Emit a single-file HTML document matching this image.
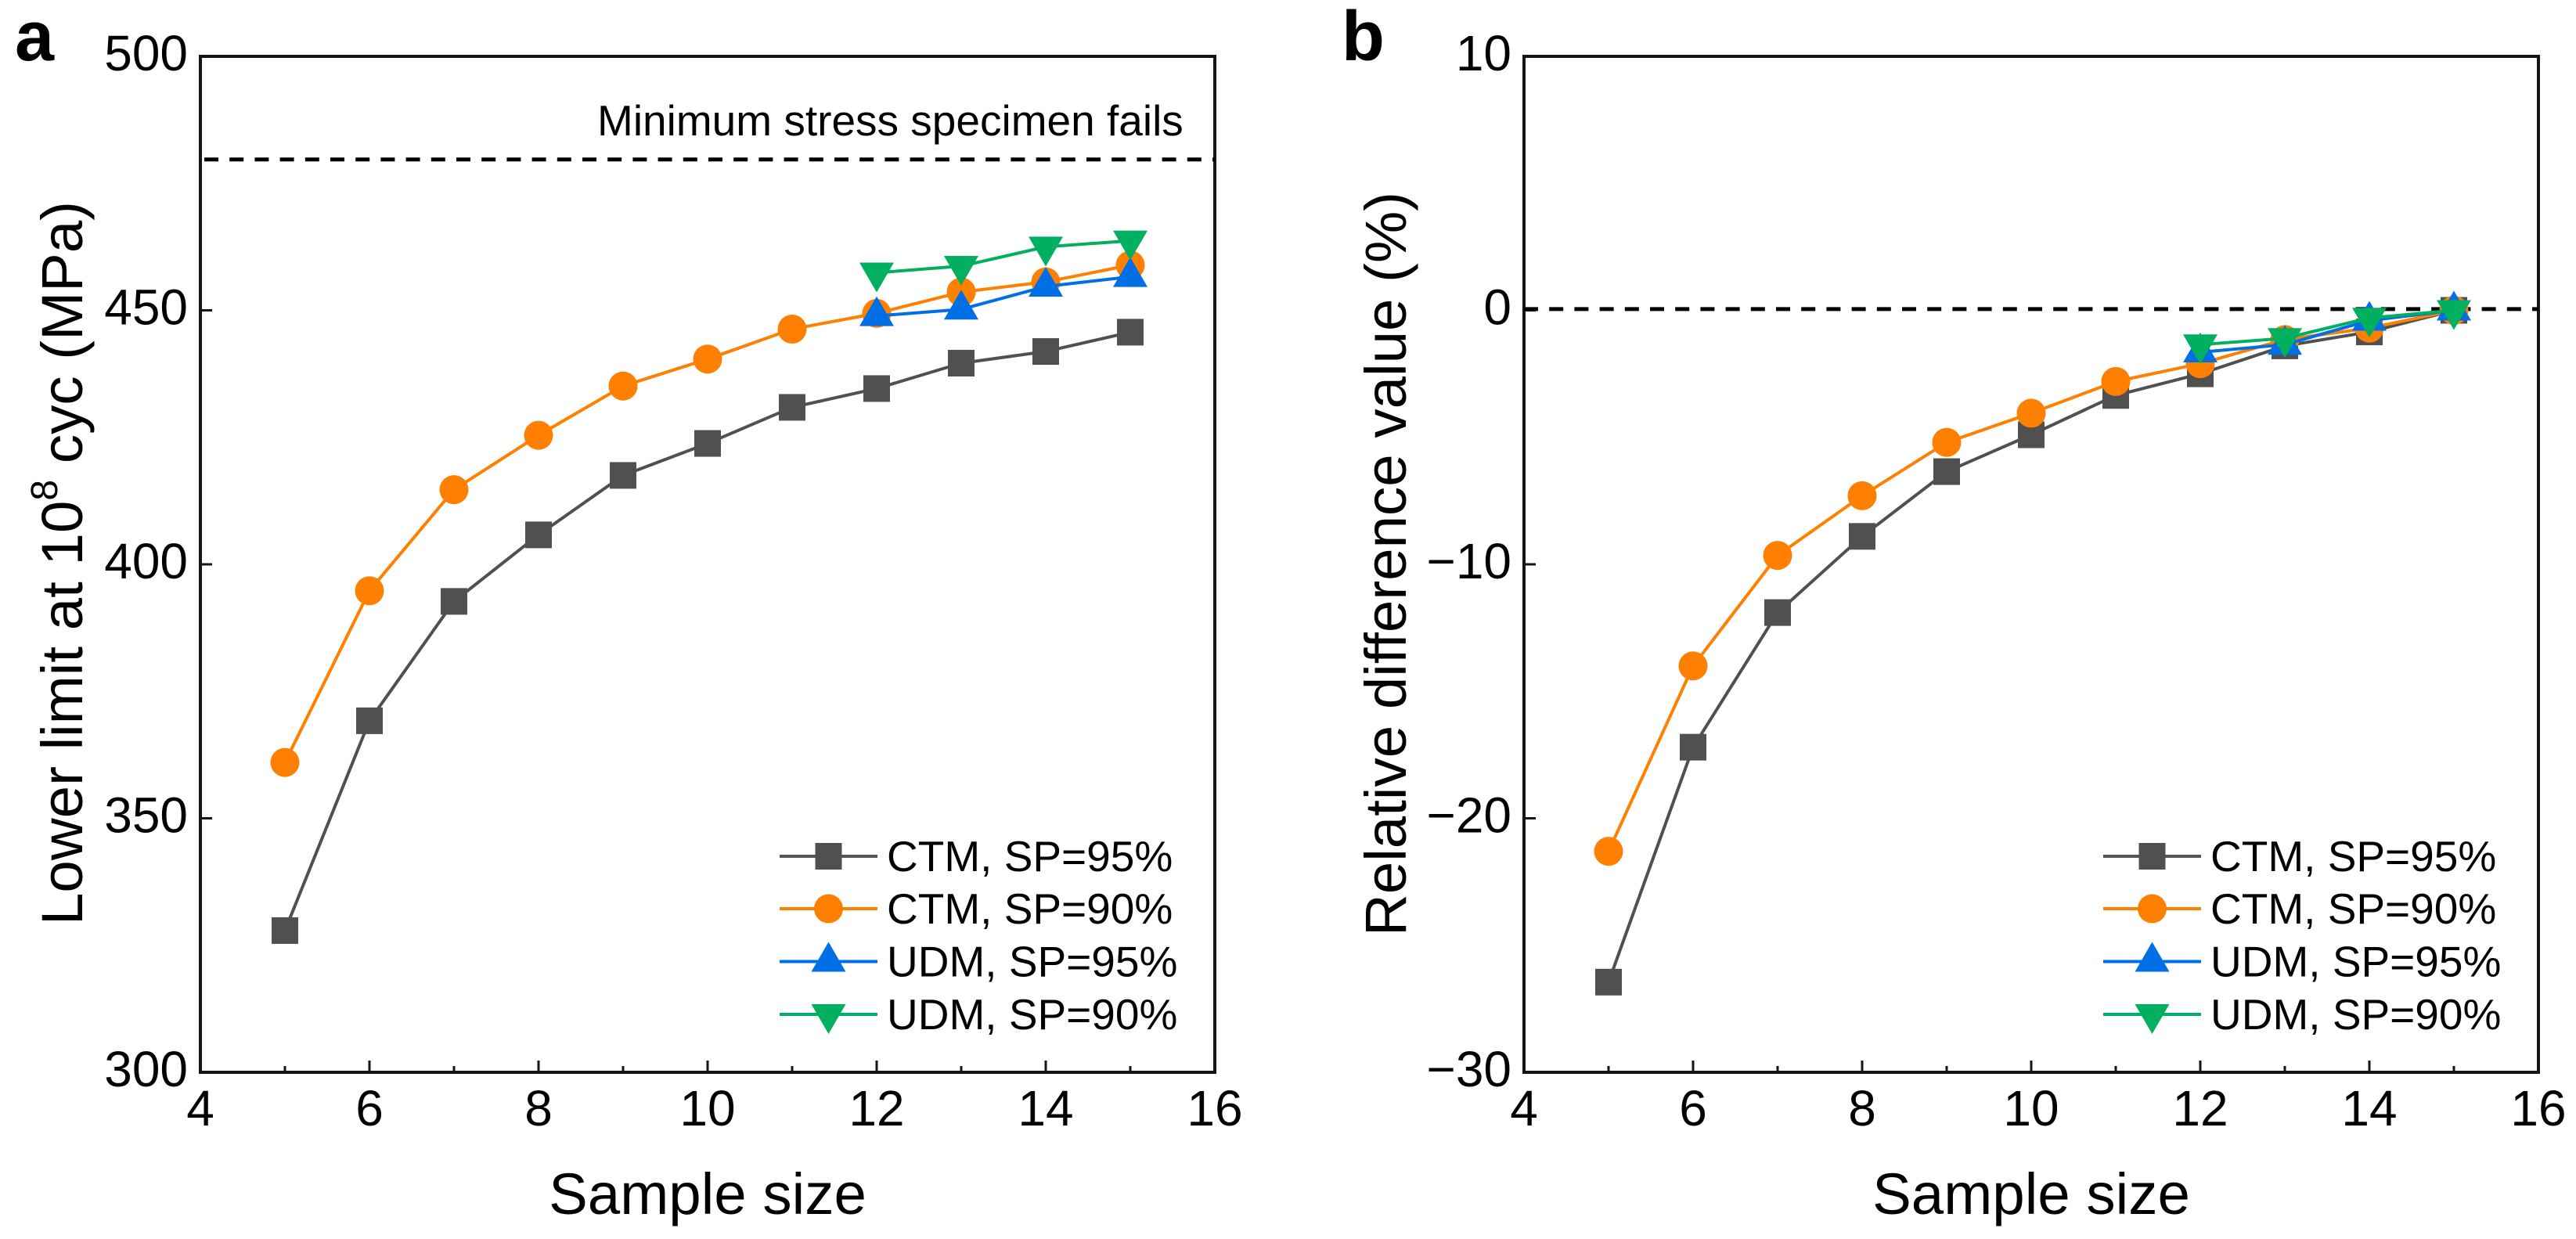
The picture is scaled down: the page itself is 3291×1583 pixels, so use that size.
<!DOCTYPE html>
<html lang="en">
<head>
<meta charset="utf-8">
<title>Lower limit and relative difference vs sample size</title>
<style>
html,body{margin:0;padding:0;background:#fff;}
svg{display:block;}
text{font-family:"Liberation Sans",Arial,sans-serif;fill:#000;}
.tick{font-size:64px;}
.axis-title{font-size:74.5px;}
.legend-text{font-size:55px;}
.panel-letter{font-size:90px;font-weight:bold;}
</style>
</head>
<body>
<svg id="figure" xmlns="http://www.w3.org/2000/svg" width="3291" height="1583" viewBox="0 0 3291 1583">
  <rect x="0" y="0" width="3291" height="1583" fill="#fff"/>

  <text class="panel-letter" x="19" y="77">a</text>
  <text class="panel-letter" x="1714" y="77">b</text>

  <g id="panel-a"></g>
  <g id="panel-b"></g>

  <text class="axis-title" transform="translate(105 1182) rotate(-90)">Lower limit at 10<tspan dy="-32" style="font-size:48px">8</tspan><tspan dy="32"> cyc (MPa)</tspan></text>
  <text class="axis-title" x="904" y="1551" text-anchor="middle">Sample size</text>
  <text class="axis-title" transform="translate(1796 1196) rotate(-90)">Relative difference value (%)</text>
  <text class="axis-title" x="2595" y="1551" text-anchor="middle">Sample size</text>

  <text x="763" y="173" style="font-size:55px">Minimum stress specimen fails</text>

  <g id="legend-a">
    <g>
      <line x1="996" y1="1094" x2="1121" y2="1094" stroke="#555555" stroke-width="4"/>
      <rect x="1041.5" y="1077" width="34" height="34" fill="#505050"/>
      <text class="legend-text" x="1133" y="1113">CTM, SP=95%</text>
    </g>
    <g>
      <line x1="996" y1="1161" x2="1121" y2="1161" stroke="#ff8000" stroke-width="4"/>
      <circle cx="1058.5" cy="1161" r="18.5" fill="#ff8000"/>
      <text class="legend-text" x="1133" y="1180">CTM, SP=90%</text>
    </g>
    <g>
      <line x1="996" y1="1228.5" x2="1121" y2="1228.5" stroke="#006fe6" stroke-width="4"/>
      <polygon points="1058.5,1203.5 1080.5,1241.5 1036.5,1241.5" fill="#006fe6"/>
      <text class="legend-text" x="1133" y="1247.5">UDM, SP=95%</text>
    </g>
    <g>
      <line x1="996" y1="1296" x2="1121" y2="1296" stroke="#00b060" stroke-width="4"/>
      <polygon points="1036.5,1283 1080.5,1283 1058.5,1321" fill="#00b060"/>
      <text class="legend-text" x="1133" y="1315">UDM, SP=90%</text>
    </g>
  </g>
  <g id="legend-b" transform="translate(1691 0)">
    <g>
      <line x1="996" y1="1094" x2="1121" y2="1094" stroke="#555555" stroke-width="4"/>
      <rect x="1041.5" y="1077" width="34" height="34" fill="#505050"/>
      <text class="legend-text" x="1133" y="1113">CTM, SP=95%</text>
    </g>
    <g>
      <line x1="996" y1="1161" x2="1121" y2="1161" stroke="#ff8000" stroke-width="4"/>
      <circle cx="1058.5" cy="1161" r="18.5" fill="#ff8000"/>
      <text class="legend-text" x="1133" y="1180">CTM, SP=90%</text>
    </g>
    <g>
      <line x1="996" y1="1228.5" x2="1121" y2="1228.5" stroke="#006fe6" stroke-width="4"/>
      <polygon points="1058.5,1203.5 1080.5,1241.5 1036.5,1241.5" fill="#006fe6"/>
      <text class="legend-text" x="1133" y="1247.5">UDM, SP=95%</text>
    </g>
    <g>
      <line x1="996" y1="1296" x2="1121" y2="1296" stroke="#00b060" stroke-width="4"/>
      <polygon points="1036.5,1283 1080.5,1283 1058.5,1321" fill="#00b060"/>
      <text class="legend-text" x="1133" y="1315">UDM, SP=90%</text>
    </g>
  </g>
</svg>
<script>
/* ---------- chart data ---------- */
const ctmSampleSizes = [5, 6, 7, 8, 9, 10, 11, 12, 13, 14, 15];
const udmSampleSizes = [12, 13, 14, 15];

const strengthCtm95 = [327.9, 369.2, 392.7, 405.8, 417.5, 423.8, 430.9, 434.6, 439.6, 441.9, 445.7];
const strengthCtm90 = [361.0, 394.8, 414.7, 425.4, 435.1, 440.4, 446.3, 449.4, 453.6, 455.6, 458.9];
const strengthUdm95 = [448.9, 450.2, 454.7, 456.6];
const strengthUdm90 = [457.4, 458.7, 462.5, 463.7];

const diffCtm95 = [-26.45, -17.2, -11.9, -8.9, -6.35, -4.9, -3.35, -2.5, -1.4, -0.85, 0];
const diffCtm90 = [-21.3, -14.0, -9.65, -7.3, -5.2, -4.05, -2.8, -2.1, -1.15, -0.7, 0];
const diffUdm95 = [-1.65, -1.35, -0.4, 0];
const diffUdm90 = [-1.35, -1.1, -0.3, 0];

const xMajorTicks = [4, 6, 8, 10, 12, 14, 16];
const xMinorTicks = [5, 7, 9, 11, 13, 15];
const xTickLabels = ["4", "6", "8", "10", "12", "14", "16"];

const strengthTicks = [300, 350, 400, 450, 500];
const strengthTickLabels = ["300", "350", "400", "450", "500"];
const diffTicks = [-30, -20, -10, 0, 10];
const diffTickLabels = ["\u221230", "\u221220", "\u221210", "0", "10"];

const strengthReference = 479.7;
const diffReference = 0.05;

/* ---------- axis functions ---------- */
const plotTop = 72;
const plotBottom = 1370;
const plotWidth = 1296;
const X_MIN = 4;
const X_MAX = 16;
const SVG_NS = "http://www.w3.org/2000/svg";

function xAxis(left, v) {
  return left + (v - X_MIN) / (X_MAX - X_MIN) * plotWidth;
}
function yAxis(yMin, yMax, v) {
  return plotBottom - (v - yMin) / (yMax - yMin) * (plotBottom - plotTop);
}
function make(tag, parent) {
  const el = document.createElementNS(SVG_NS, tag);
  parent.appendChild(el);
  return el;
}

function drawMarker(parent, shape, color, cx, cy) {
  let m;
  if (shape === "square") {
    m = make("rect", parent);
    m.setAttribute("x", cx - 17);
    m.setAttribute("y", cy - 17);
    m.setAttribute("width", 34);
    m.setAttribute("height", 34);
  } else if (shape === "circle") {
    m = make("circle", parent);
    m.setAttribute("cx", cx);
    m.setAttribute("cy", cy);
    m.setAttribute("r", 18.5);
  } else if (shape === "up") {
    m = make("polygon", parent);
    m.setAttribute("points", cx + "," + (cy - 25) + " " + (cx + 22) + "," + (cy + 13) + " " + (cx - 22) + "," + (cy + 13));
  } else {
    m = make("polygon", parent);
    m.setAttribute("points", (cx - 22) + "," + (cy - 13) + " " + (cx + 22) + "," + (cy - 13) + " " + cx + "," + (cy + 25));
  }
  m.setAttribute("fill", color);
  
  
  return m;
}

function drawSeries(parent, left, yMin, yMax, xs, ys, color, shape, seriesName) {
  const g = make("g", parent);
  
  
  const line = make("polyline", g);
  line.setAttribute("fill", "none");
  line.setAttribute("stroke", color);
  line.setAttribute("stroke-width", 4);
  line.setAttribute("stroke-linejoin", "round");
  line.setAttribute("points", xs.map(function (x, i) {
    return xAxis(left, x) + "," + yAxis(yMin, yMax, ys[i]);
  }).join(" "));
  
  
  xs.forEach(function (x, i) {
    drawMarker(g, shape, color, xAxis(left, x), yAxis(yMin, yMax, ys[i]));
  });
}

function drawAxes(parent, left, yMin, yMax, yTicks, yLabels, reference, dashOffset) {
  const right = left + plotWidth;

  const frame = make("rect", parent);
  frame.setAttribute("x", left);
  frame.setAttribute("y", plotTop);
  frame.setAttribute("width", plotWidth);
  frame.setAttribute("height", plotBottom - plotTop);
  frame.setAttribute("fill", "none");
  frame.setAttribute("stroke", "#151515");
  frame.setAttribute("stroke-width", 4);
  
  

  xMajorTicks.forEach(function (v, i) {
    const px = xAxis(left, v);
    const t = make("line", parent);
    t.setAttribute("x1", px);
    t.setAttribute("x2", px);
    t.setAttribute("y1", plotBottom);
    t.setAttribute("y2", plotBottom - 15);
    t.setAttribute("stroke", "#151515");
    t.setAttribute("stroke-width", 3);
    
    
    const label = make("text", parent);
    label.setAttribute("class", "tick");
    label.setAttribute("x", px);
    label.setAttribute("y", 1438);
    label.setAttribute("text-anchor", "middle");
    label.textContent = xTickLabels[i];
    
    
  });

  xMinorTicks.forEach(function (v) {
    const px = xAxis(left, v);
    const t = make("line", parent);
    t.setAttribute("x1", px);
    t.setAttribute("x2", px);
    t.setAttribute("y1", plotBottom);
    t.setAttribute("y2", plotBottom - 8);
    t.setAttribute("stroke", "#151515");
    t.setAttribute("stroke-width", 3);
    
    
  });

  yTicks.forEach(function (v, i) {
    const py = yAxis(yMin, yMax, v);
    const t = make("line", parent);
    t.setAttribute("x1", left);
    t.setAttribute("x2", left + 15);
    t.setAttribute("y1", py);
    t.setAttribute("y2", py);
    t.setAttribute("stroke", "#151515");
    t.setAttribute("stroke-width", 3);
    
    
    const label = make("text", parent);
    label.setAttribute("class", "tick");
    label.setAttribute("x", left - 16);
    label.setAttribute("y", py + 18);
    label.setAttribute("text-anchor", "end");
    label.textContent = yLabels[i];
    
    
  });

  const ref = make("line", parent);
  ref.setAttribute("x1", left + dashOffset);
  ref.setAttribute("x2", right);
  ref.setAttribute("y1", yAxis(yMin, yMax, reference));
  ref.setAttribute("y2", yAxis(yMin, yMax, reference));
  ref.setAttribute("stroke", "#000");
  ref.setAttribute("stroke-width", 5);
  ref.setAttribute("stroke-dasharray", "18 14.2");
  
  
}

/* ---------- draw ---------- */
const GRAY = "#505050";
const ORANGE = "#ff8000";
const BLUE = "#006fe6";
const GREEN = "#00b060";

const panelA = document.getElementById("panel-a");
drawAxes(panelA, 256, 300, 500, strengthTicks, strengthTickLabels, strengthReference, 5);
drawSeries(panelA, 256, 300, 500, ctmSampleSizes, strengthCtm95, GRAY, "square", "series-ctm-95");
drawSeries(panelA, 256, 300, 500, ctmSampleSizes, strengthCtm90, ORANGE, "circle", "series-ctm-90");
drawSeries(panelA, 256, 300, 500, udmSampleSizes, strengthUdm95, BLUE, "up", "series-udm-95");
drawSeries(panelA, 256, 300, 500, udmSampleSizes, strengthUdm90, GREEN, "down", "series-udm-90");

const panelB = document.getElementById("panel-b");
drawAxes(panelB, 1947, -30, 10, diffTicks, diffTickLabels, diffReference, 0);
drawSeries(panelB, 1947, -30, 10, ctmSampleSizes, diffCtm95, GRAY, "square", "series-ctm-95");
drawSeries(panelB, 1947, -30, 10, ctmSampleSizes, diffCtm90, ORANGE, "circle", "series-ctm-90");
drawSeries(panelB, 1947, -30, 10, udmSampleSizes, diffUdm95, BLUE, "up", "series-udm-95");
drawSeries(panelB, 1947, -30, 10, udmSampleSizes, diffUdm90, GREEN, "down", "series-udm-90");
</script>
</body>
</html>
